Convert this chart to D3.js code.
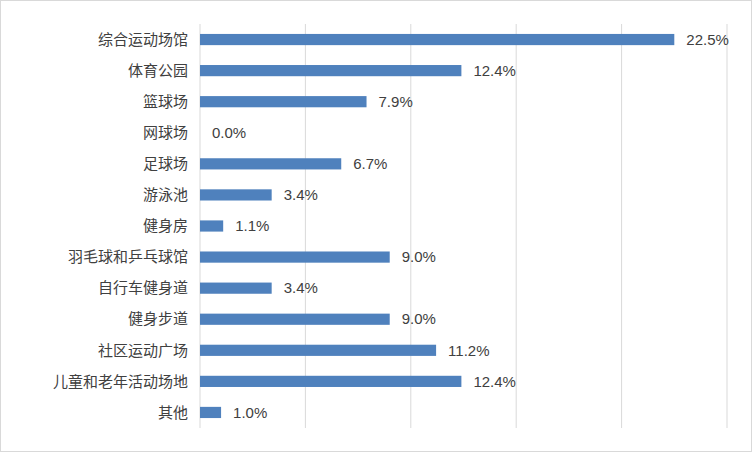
<!DOCTYPE html><html><head><meta charset="utf-8"><script src="https://cdn.jsdelivr.net/npm/d3@7"></script>
<style>body{margin:0;background:#fff}</style></head><body><svg id="c" width="752" height="452"></svg>
<script>
const categories=["综合运动场馆","体育公园","篮球场","网球场","足球场","游泳池","健身房","羽毛球和乒乓球馆","自行车健身道","健身步道","社区运动广场","儿童和老年活动场地","其他"];
const values=[22.5,12.4,7.9,0.0,6.7,3.4,1.1,9.0,3.4,9.0,11.2,12.4,1.0];
const ticks=[0,5,10,15,20,25];
const svg=d3.select("#c");
svg.append("rect").attr("x",0.5).attr("y",0.5).attr("width",751).attr("height",451).attr("fill","#fff").attr("stroke","#d9d9d9");
const x=d3.scaleLinear().domain([0,25]).range([200,727]);
const y=d3.scaleBand().domain(categories).range([24,428]).paddingInner(0.64).paddingOuter(0.32);
svg.selectAll(".g").data(ticks).join("line").attr("x1",d=>x(d)).attr("x2",d=>x(d)).attr("y1",24).attr("y2",428).attr("stroke","#d9d9d9");
svg.selectAll(".b").data(categories).join("rect").attr("x",x(0)).attr("y",d=>y(d)).attr("height",y.bandwidth()).attr("width",(d,i)=>x(values[i])-x(0)).attr("fill","#4f81bd");
svg.selectAll(".l").data(categories).join("text").attr("x",188).attr("y",d=>y(d)+y.bandwidth()/2).attr("dy","0.35em").attr("text-anchor","end").attr("font-family","Noto Sans CJK SC").attr("font-size",15).attr("fill","#404040").text(d=>d);
svg.selectAll(".v").data(categories).join("text").attr("x",(d,i)=>x(values[i])+12).attr("y",d=>y(d)+y.bandwidth()/2).attr("dy","0.35em").attr("font-family","Liberation Sans").attr("font-size",15).attr("fill","#404040").text((d,i)=>values[i].toFixed(1)+"%");
</script></body></html>
